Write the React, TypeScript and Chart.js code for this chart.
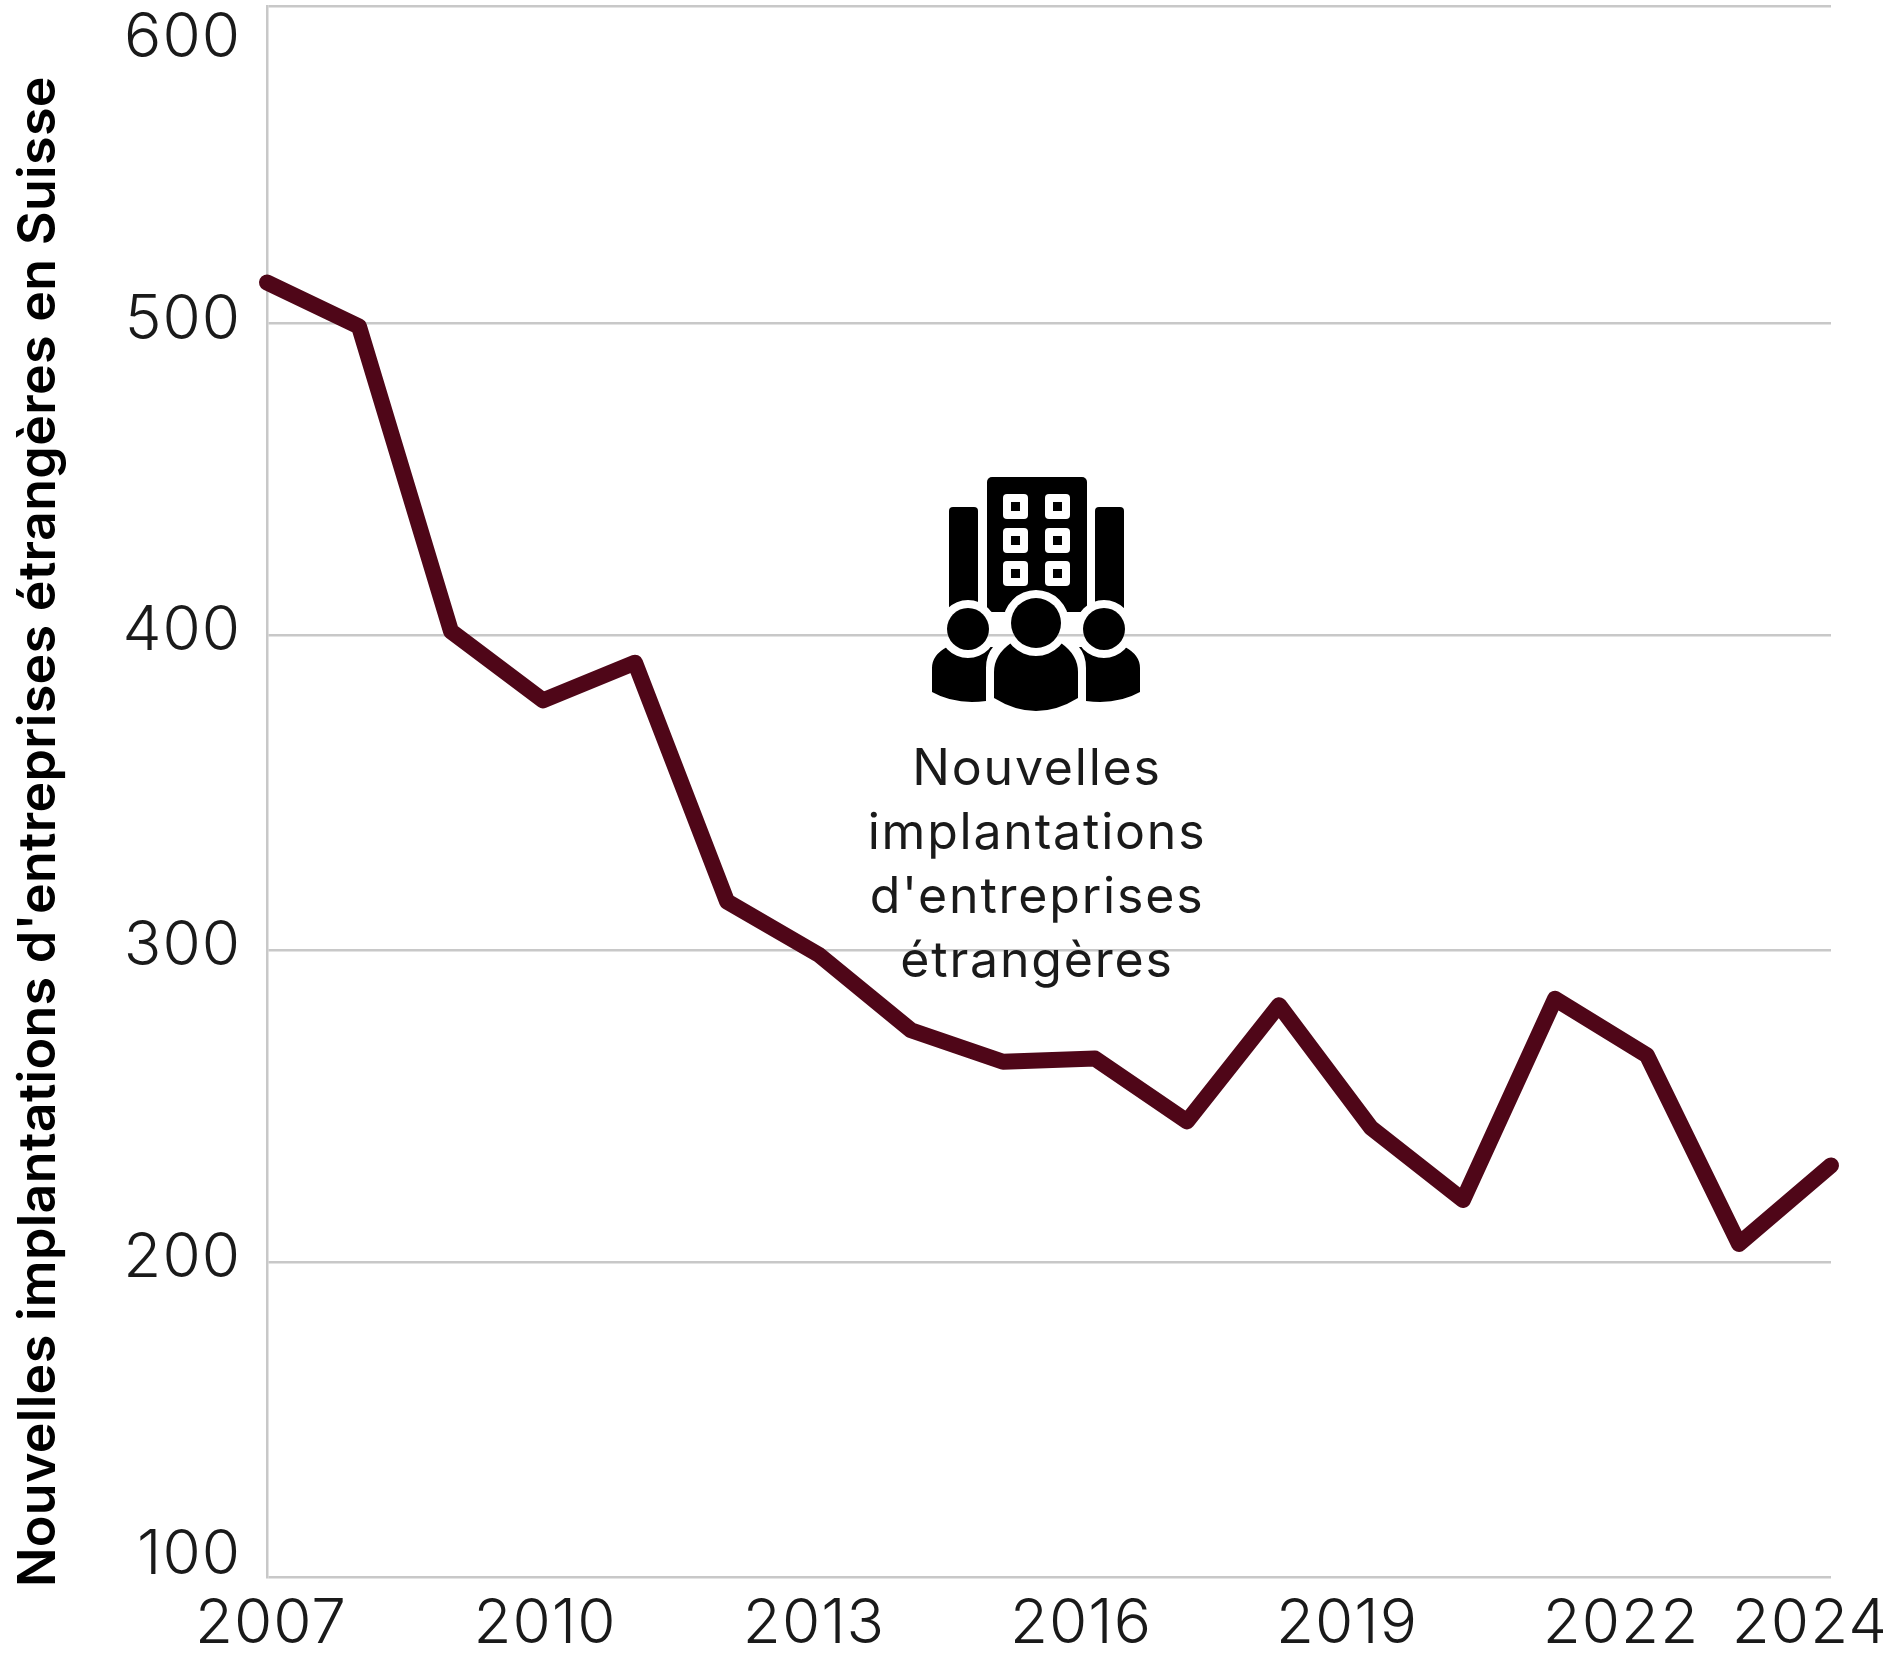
import React, { useEffect, useRef } from "react";
import { Chart, registerables } from "chart.js";

Chart.register(...registerables);

const years = ["2007","2008","2009","2010","2011","2012","2013","2014","2015","2016","2017","2018","2019","2020","2021","2022","2023","2024"];
const implantations = [512, 498, 401, 379, 391, 315, 298, 274, 264, 265, 245, 282, 243, 220, 284, 266, 206, 231];
const shownYears = ["2007","2010","2013","2016","2019","2022","2024"];
const axisTitle = "Nouvelles implantations d'entreprises étrangères en Suisse";
const noteLines = ["Nouvelles", "implantations", "d'entreprises", "étrangères"];

const FONT = "Inter, 'Noto Sans', sans-serif";
const GRID = "#c8c8c8";
const INK = "#1a1a1a";
const LINE = "#4f0618";

const xLabelCenter: Record<string, number> = { "2007": 271, "2010": 545, "2013": 814, "2016": 1081, "2019": 1347, "2022": 1621, "2024": 1810 };
const yLabelCenter: Record<string, number> = { "600": 35, "500": 317, "400": 628, "300": 943, "200": 1255, "100": 1552 };
const gridNudge: Record<string, number> = { "500": 2.8, "400": 0.6, "300": 1.4, "200": -0.8 };

function cut(ctx: CanvasRenderingContext2D, cx: number, cy: number, r: number) {
  const p = new Path2D();
  p.rect(0, 0, 1883, 1655);
  p.moveTo(cx + r, cy);
  p.arc(cx, cy, r, 0, Math.PI * 2);
  ctx.clip(p, "evenodd");
}

function drawIcon(ctx: CanvasRenderingContext2D) {
  const cx = 1036;
  ctx.fillStyle = "#000";
  const fillPath = (fn: () => void) => { ctx.beginPath(); fn(); ctx.fill(); };

  // buildings
  ctx.save();
  cut(ctx, cx, 623, 33);
  cut(ctx, 968, 629, 29);
  cut(ctx, 1104, 629, 29);
  fillPath(() => ctx.roundRect(987, 477, 100, 135, 5));
  fillPath(() => ctx.roundRect(949, 507, 29, 120, 4));
  fillPath(() => ctx.roundRect(1095, 507, 29, 120, 4));
  ctx.restore();

  // windows
  for (const wx of [1003, 1045]) {
    for (const wy of [494, 528, 561]) {
      ctx.fillStyle = "#fff";
      fillPath(() => ctx.roundRect(wx, wy, 25, 25, 4));
      ctx.fillStyle = "#000";
      ctx.fillRect(wx + 8, wy + 8, 9, 9);
    }
  }

  // heads
  fillPath(() => ctx.arc(cx, 623, 25, 0, Math.PI * 2));
  fillPath(() => ctx.arc(968, 629, 21, 0, Math.PI * 2));
  fillPath(() => ctx.arc(1104, 629, 21, 0, Math.PI * 2));

  // centre body
  ctx.save();
  cut(ctx, cx, 623, 33);
  fillPath(() => {
    ctx.moveTo(994, 698);
    ctx.lineTo(994, 672);
    ctx.quadraticCurveTo(994, 655, 1011, 643);
    ctx.lineTo(1061, 643);
    ctx.quadraticCurveTo(1078, 655, 1078, 672);
    ctx.lineTo(1078, 698);
    ctx.quadraticCurveTo(1036, 724, 994, 698);
  });
  ctx.restore();

  // side bodies
  for (const m of [1, -1]) {
    const X = (x: number) => (m === 1 ? x : 2 * cx - x);
    ctx.save();
    cut(ctx, X(968), 629, 29);
    fillPath(() => {
      ctx.moveTo(X(932), 692);
      ctx.lineTo(X(932), 668);
      ctx.quadraticCurveTo(X(932), 655, X(947), 647);
      ctx.lineTo(X(993), 647);
      ctx.quadraticCurveTo(X(986), 655, X(986), 668);
      ctx.lineTo(X(986), 701);
      ctx.quadraticCurveTo(X(955), 705, X(932), 692);
    });
    ctx.restore();
  }
}

const placeLabels = {
  id: "placeLabels",
  beforeDraw(chart: any) {
    (chart.ctx as any).letterSpacing = "1px";
    for (const item of chart.scales.x.getLabelItems()) {
      const c = xLabelCenter[item.label];
      if (c === undefined) continue;
      item.options.translation = [c, 1624];
      item.options.textAlign = "center";
      item.options.textBaseline = "middle";
      item.textOffset = 0;
    }
    for (const item of chart.scales.y.getLabelItems()) {
      const c = yLabelCenter[item.label];
      if (c === undefined) continue;
      item.options.translation = [241, c + 3];
      item.options.textAlign = "right";
      item.options.textBaseline = "middle";
      item.textOffset = 0;
    }
  },
};

const note = {
  id: "note",
  afterDatasetsDraw(chart: any) {
    const ctx: CanvasRenderingContext2D = chart.ctx;
    ctx.save();
    drawIcon(ctx);
    ctx.fillStyle = INK;
    ctx.font = `400 50px ${FONT}`;
    (ctx as any).letterSpacing = "1.8px";
    ctx.textAlign = "center";
    ctx.textBaseline = "middle";
    noteLines.forEach((t, i) => ctx.fillText(t, 1037, 770 + i * 64));
    ctx.restore();
  },
};

const zeroPadding = (s: any) => {
  s.paddingLeft = 0;
  s.paddingRight = 0;
  s.paddingTop = 0;
  s.paddingBottom = 0;
};

export default function App() {
  const ref = useRef<HTMLCanvasElement>(null);
  useEffect(() => {
    const chart = new Chart(ref.current!, {
      type: "line",
      data: {
        labels: years,
        datasets: [{
          label: "Nouvelles implantations",
          data: implantations,
          borderColor: LINE,
          borderWidth: 16,
          borderCapStyle: "round",
          borderJoinStyle: "round",
          pointRadius: 0,
          tension: 0,
          clip: false,
        }],
      },
      plugins: [placeLabels, note],
      options: {
        responsive: false,
        animation: false,
        layout: { padding: { top: 6, right: 52, left: 0, bottom: 0 } },
        plugins: { legend: { display: false }, title: { display: false }, tooltip: { enabled: false } },
        scales: {
          x: {
            grid: { display: false, drawTicks: false },
            border: { display: false },
            offset: false,
            afterFit: (s: any) => { s.height = 78; zeroPadding(s); },
            ticks: {
              autoSkip: false,
              maxRotation: 0,
              minRotation: 0,
              color: INK,
              font: { family: FONT, size: 62, weight: "300" },
              callback(this: any, v: any) {
                const l = years[v as number];
                return shownYears.includes(l) ? l : "";
              },
            },
          },
          y: {
            min: 100,
            max: 600,
            afterFit: (s: any) => { s.width = 267; zeroPadding(s); },
            afterUpdate: (s: any) => {
              if (s.__patched) return;
              s.__patched = true;
              const orig = s.drawTitle;
              s.drawTitle = function () {
                const b = s.bottom;
                const c = s.ctx;
                s.bottom = b + 10;
                c.save();
                c.letterSpacing = "0.3px";
                orig.call(s);
                c.restore();
                s.bottom = b;
              };
              const pixelFor = s.getPixelForTick.bind(s);
              s.getPixelForTick = (i: number) =>
                pixelFor(i) + (gridNudge[String(s.ticks[i]?.value)] ?? 0);
            },
            grid: { color: GRID, lineWidth: 2.5, drawTicks: false },
            border: { color: GRID, width: 2.5 },
            title: {
              display: true,
              text: axisTitle,
              align: "start",
              color: "#000",
              font: { family: FONT, size: 52, weight: "600" },
              padding: { top: 8, bottom: 0 },
            },
            ticks: {
              stepSize: 100,
              color: INK,
              padding: 29,
              font: { family: FONT, size: 62, weight: "300" },
            },
          },
        },
      },
    } as any);
    return () => chart.destroy();
  }, []);
  return (
    <div style={{ position: "absolute", left: 0, top: 0, width: 1883, height: 1655, background: "#fff" }}>
      <canvas ref={ref} width={1883} height={1655} style={{ display: "block" }} />
    </div>
  );
}
